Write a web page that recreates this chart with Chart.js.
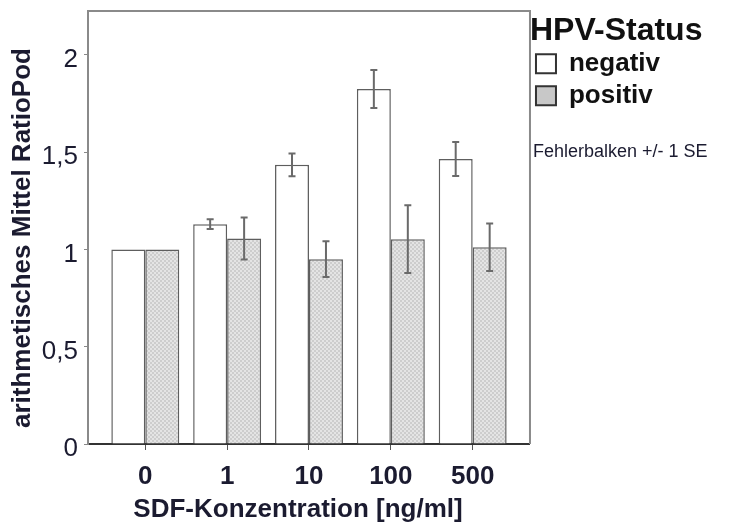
<!DOCTYPE html>
<html>
<head>
<meta charset="utf-8">
<script src="https://cdn.jsdelivr.net/npm/chart.js@4"></script>
<style>
  html, body { margin: 0; padding: 0; background: #fff; }
  #wrap { width: 746px; height: 529px; }
</style>
</head>
<body>
<div id="wrap"><canvas id="myChart"></canvas></div>
<script>
// data
const categories = ['0', '1', '10', '100', '500'];
const negativMean = [1.0, 1.13, 1.435, 1.825, 1.465];
const negativSE = [0, 0.025, 0.058, 0.098, 0.087];
const positivMean = [1.0, 1.056, 0.95, 1.053, 1.012];
const positivSE = [0, 0.108, 0.092, 0.174, 0.122];
const yTicks = [0, 0.5, 1, 1.5, 2];

const FONT = "'Liberation Sans', Arial, sans-serif";
const TEXT = '#1b1b30';

// light grey checker like the SPSS fill
const makePattern = () => {
    const c = document.createElement('canvas');
    c.width = 4; c.height = 4;
    const g = c.getContext('2d');
    g.fillStyle = '#e4e4e4';
    g.fillRect(0, 0, 4, 4);
    g.fillStyle = '#cdcdcd';
    g.fillRect(0, 0, 2, 2);
    g.fillRect(2, 2, 2, 2);
    return g.createPattern(c, 'repeat');
};

const legendFill = ['#ffffff', '#c8c8c8'];

const errorBars = {
    id: 'errorBars',
    afterDatasetsDraw(chart) {
        const { ctx } = chart;
        const y = chart.scales.y;
        const errs = [negativSE, positivSE];
        ctx.save();
        ctx.strokeStyle = '#6a6a6a';
        ctx.lineWidth = 2;
        chart.data.datasets.forEach((ds, i) => {
            const meta = chart.getDatasetMeta(i);
            meta.data.forEach((bar, j) => {
                const se = errs[i][j];
                if (!se) return;
                const v = ds.data[j].y;
                const top = y.getPixelForValue(v + se);
                const bot = y.getPixelForValue(v - se);
                ctx.beginPath();
                ctx.moveTo(bar.x, top); ctx.lineTo(bar.x, bot);
                ctx.moveTo(bar.x - 3.5, top); ctx.lineTo(bar.x + 3.5, top);
                ctx.moveTo(bar.x - 3.5, bot); ctx.lineTo(bar.x + 3.5, bot);
                ctx.stroke();
            });
        });
        ctx.restore();
    }
};

// top/right frame, axis titles and the note
const extras = {
    id: 'extras',
    afterLayout(chart) {
        // legend clips to its own box, let the wide title run to the edge
        chart.legend.right = chart.width;
        chart.legend.width = chart.legend.right - chart.legend.left;
    },
    afterDraw(chart) {
        const { ctx, chartArea: a } = chart;
        ctx.save();
        ctx.strokeStyle = '#8a8a8a';
        ctx.lineWidth = 2;
        ctx.beginPath();
        ctx.moveTo(a.left, a.top);
        ctx.lineTo(a.right, a.top);
        ctx.lineTo(a.right, a.bottom);
        ctx.stroke();

        ctx.fillStyle = TEXT;
        ctx.textAlign = 'center';
        ctx.textBaseline = 'middle';
        ctx.font = `bold 26px ${FONT}`;
        ctx.fillText('SDF-Konzentration [ng/ml]', 298, 510);

        ctx.save();
        ctx.translate(23, 238);
        ctx.rotate(-Math.PI / 2);
        ctx.fillText('arithmetisches Mittel RatioPod', 0, 0);
        ctx.restore();

        ctx.textAlign = 'left';
        ctx.textBaseline = 'alphabetic';
        ctx.font = `18px ${FONT}`;
        ctx.fillText('Fehlerbalken +/- 1 SE', 533, 157);
        ctx.restore();
    }
};

const ctx = document.getElementById('myChart');

new Chart(ctx, {
    type: 'bar',
    data: {
        datasets: [
            {
                label: 'negativ',
                data: negativMean.map((v, i) => ({ x: i, y: v })),
                backgroundColor: '#ffffff',
                borderColor: '#5e5e5e',
                borderWidth: 1.5,
            },
            {
                label: 'positiv',
                data: positivMean.map((v, i) => ({ x: i, y: v })),
                backgroundColor: makePattern(),
                borderColor: '#5e5e5e',
                borderWidth: 1.5,
            }
        ]
    },
    options: {
        responsive: true,
        maintainAspectRatio: false,
        animation: false,
        devicePixelRatio: 1,
        categoryPercentage: 0.83,
        barPercentage: 1.0,
        layout: { padding: { top: 11, right: 76, left: 0, bottom: 0 } },
        scales: {
            x: {
                type: 'linear',
                min: -0.7,
                max: 4.7,
                offset: false,
                afterBuildTicks: (scale) => {
                    scale.ticks = categories.map((c, i) => ({ value: i }));
                },
                afterFit: (scale) => {
                    scale.height = 85;
                    scale.paddingLeft = 0;
                    scale.paddingRight = 0;
                },
                ticks: {
                    callback: (v) => categories[v],
                    font: { family: FONT, size: 26, weight: 'bold' },
                    color: TEXT,
                    padding: 11,
                },
                grid: { offset: false, drawOnChartArea: false, tickLength: 6, color: '#555', lineWidth: 1 },
                border: { color: '#333', width: 2 },
            },
            y: {
                min: 0,
                max: 2.226,
                afterBuildTicks: (scale) => {
                    scale.ticks = yTicks.map(v => ({ value: v }));
                },
                afterFit: (scale) => {
                    scale.width = 88;
                    scale.paddingTop = 0;
                    scale.paddingBottom = 0;
                },
                ticks: {
                    callback: (v) => String(v).replace('.', ','),
                    font: { family: FONT, size: 26 },
                    color: TEXT,
                    padding: 6,
                    labelOffset: 5,
                },
                grid: { drawOnChartArea: false, tickLength: 4, color: '#888' },
                border: { color: '#8a8a8a', width: 2 },
            }
        },
        plugins: {
            tooltip: { enabled: false },
            legend: {
                position: 'right',
                align: 'start',
                title: {
                    display: true,
                    text: 'HPV-Status',
                    position: 'start',
                    color: '#111',
                    font: { family: FONT, size: 32, weight: 'bold', lineHeight: 0.9 },
                    padding: { top: 4, bottom: 1 },
                },
                labels: {
                    boxWidth: 20,
                    boxHeight: 19,
                    padding: 6,
                    color: '#111',
                    font: { family: FONT, size: 26, weight: 'bold' },
                    generateLabels: (chart) => chart.data.datasets.map((ds, i) => ({
                        text: ds.label,
                        fillStyle: legendFill[i],
                        strokeStyle: '#333',
                        lineWidth: 2,
                        hidden: false,
                        datasetIndex: i,
                        fontColor: '#111',
                    })),
                },
            }
        }
    },
    plugins: [errorBars, extras]
});
</script>
</body>
</html>
